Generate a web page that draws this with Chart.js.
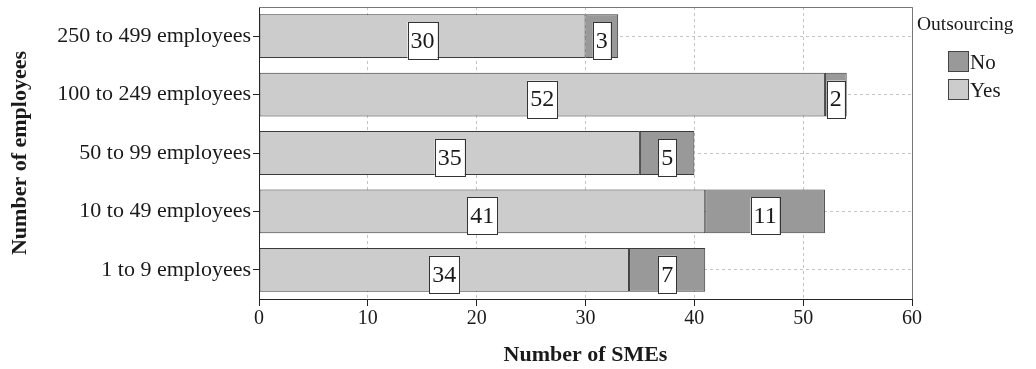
<!DOCTYPE html>
<html>
<head>
<meta charset="utf-8">
<script src="https://cdn.jsdelivr.net/npm/chart.js@4"></script>
<style>
  html, body { margin: 0; padding: 0; background: #fff; }
  #wrap { width: 1036px; height: 369px; position: relative; }
</style>
</head>
<body>
<div id="wrap"><canvas id="smeChart"></canvas></div>
<script>
// --- Data ---
const sizeClasses = ['250 to 499 employees', '100 to 249 employees', '50 to 99 employees', '10 to 49 employees', '1 to 9 employees'];
const outsourcingYes = [30, 52, 35, 41, 34];
const outsourcingNo = [3, 2, 5, 11, 7];
const xTicks = [0, 10, 20, 30, 40, 50, 60];

const SERIF = '"Liberation Serif", "DejaVu Serif", serif';
const INK = '#1a1a1a';

// white boxed value labels in the middle of each segment
const valueBoxes = {
  id: 'valueBoxes',
  afterDatasetsDraw(chart) {
    const ctx = chart.ctx;
    ctx.save();
    ctx.font = '24px ' + SERIF;
    ctx.textAlign = 'center';
    ctx.textBaseline = 'middle';
    chart.data.datasets.forEach((ds, i) => {
      chart.getDatasetMeta(i).data.forEach((bar, j) => {
        const txt = String(ds.data[j]);
        const cx = (bar.x + bar.base) / 2;
        const w = ctx.measureText(txt).width + 6;
        const top = bar.y - 14;
        const bottom = bar.y + bar.height / 2 + 1;
        ctx.fillStyle = '#fff';
        ctx.fillRect(cx - w / 2, top, w, bottom - top);
        ctx.strokeStyle = '#333';
        ctx.lineWidth = 1;
        ctx.strokeRect(Math.round(cx - w / 2) + 0.5, Math.round(top) + 0.5, Math.round(w), Math.round(bottom - top));
        ctx.fillStyle = INK;
        ctx.fillText(txt, cx, (top + bottom) / 2 + 1);
      });
    });
    ctx.restore();
  }
};

// top/right frame of the plot + legend on the right
const frameAndLegend = {
  id: 'frameAndLegend',
  afterDraw(chart) {
    const { ctx, chartArea: a } = chart;
    ctx.save();
    ctx.strokeStyle = '#777';
    ctx.lineWidth = 1;
    ctx.beginPath();
    ctx.moveTo(a.left, Math.round(a.top) + 0.5);
    ctx.lineTo(Math.round(a.right) + 0.5, Math.round(a.top) + 0.5);
    ctx.lineTo(Math.round(a.right) + 0.5, a.bottom);
    ctx.stroke();

    ctx.fillStyle = INK;
    ctx.font = '19.5px ' + SERIF;
    ctx.textBaseline = 'middle';
    ctx.textAlign = 'left';
    ctx.fillText('Outsourcing', 917, 25);
    const items = [['No', '#999999', 61], ['Yes', '#cccccc', 89]];
    items.forEach(([label, color, y]) => {
      ctx.fillStyle = color;
      ctx.fillRect(948.5, y - 9.5, 20, 20);
      ctx.strokeStyle = '#444';
      ctx.strokeRect(948.5, y - 9.5, 20, 20);
      ctx.fillStyle = INK;
      ctx.font = '21px ' + SERIF;
      ctx.fillText(label, 970, y + 2);
    });
    ctx.restore();
  }
};

const ctx = document.getElementById('smeChart');
new Chart(ctx, {
  type: 'bar',
  data: {
    labels: sizeClasses,
    datasets: [
      { label: 'Yes', data: outsourcingYes, backgroundColor: '#cccccc', borderColor: '#3a3a3a', borderWidth: 1, borderSkipped: false },
      { label: 'No', data: outsourcingNo, backgroundColor: '#999999', borderColor: '#3a3a3a', borderWidth: 1, borderSkipped: false }
    ]
  },
  options: {
    indexAxis: 'y',
    responsive: true,
    maintainAspectRatio: false,
    animation: false,
    layout: { padding: { top: 7, right: 124, left: 0, bottom: 0 } },
    datasets: { bar: { categoryPercentage: 0.75, barPercentage: 1 } },
    plugins: { legend: { display: false }, tooltip: { enabled: false } },
    scales: {
      x: {
        stacked: true,
        min: 0, max: 60,
        afterBuildTicks(scale) { scale.ticks = xTicks.map(v => ({ value: v })); },
        afterFit(scale) { scale.height = 70; scale.paddingLeft = 0; scale.paddingRight = 0; },
        grid: { color: '#c4c4c4', drawTicks: true, tickLength: 7, tickColor: '#222', tickBorderDash: [] },
        border: { color: '#222', width: 1, dash: [3, 3] },
        ticks: { color: INK, font: { family: SERIF, size: 20 }, padding: 1 },
        title: { display: true, text: 'Number of SMEs', color: INK, font: { family: SERIF, size: 22, weight: 'bold' }, padding: { top: 7, bottom: 0 } }
      },
      y: {
        stacked: true,
        afterFit(scale) { scale.width = 259; scale.paddingTop = 0; scale.paddingBottom = 0; },
        grid: { offset: false, color: '#c4c4c4', drawTicks: true, tickLength: 6, tickColor: '#222', tickBorderDash: [] },
        border: { color: '#222', width: 1, dash: [3, 3] },
        ticks: { color: INK, font: { family: SERIF, size: 22 }, padding: 2 },
        title: { display: true, text: 'Number of employees', color: INK, font: { family: SERIF, size: 22, weight: 'bold' }, padding: { top: 7, bottom: 0 } }
      }
    }
  },
  plugins: [valueBoxes, frameAndLegend]
});
</script>
</body>
</html>
